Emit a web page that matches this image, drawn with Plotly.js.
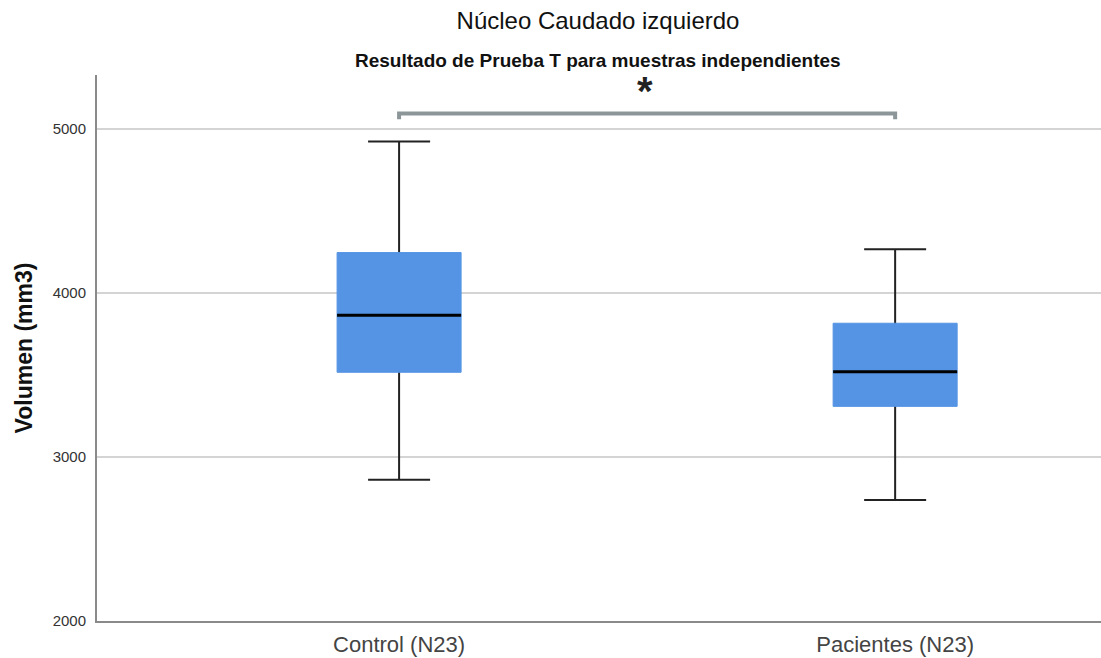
<!DOCTYPE html>
<html>
<head>
<meta charset="utf-8">
<script src="https://cdn.plot.ly/plotly-3.0.1.min.js"></script>
<style>html,body{margin:0;padding:0;background:#fff;}#chart{width:1101px;height:658px;}</style>
</head>
<body>
<div id="chart"></div>
<script>
// ---- data ----
const categories = ["Control (N23)", "Pacientes (N23)"];
const q1Values = [3517, 3309];
const medianValues = [3865, 3520];
const q3Values = [4247, 3816];
const lowerFenceValues = [2861, 2738];
const upperFenceValues = [4924, 4268];
const yTickValues = [2000, 3000, 4000, 5000];
const yTickLabels = ["2000", "3000", "4000", "5000"];
const significanceLabel = "*";
const bracketLevel = [5095, 5060]; // top of bracket, ends of bracket legs (mm3)

const titleText = "Núcleo Caudado izquierdo";
const subtitleText = "Resultado de Prueba T para muestras independientes";
const yTitleText = "Volumen (mm3)";

const boxBlue = "#5594e4";
const sansFont = "'Liberation Sans', Arial, sans-serif";

const boxWidth = 0.25;

// whiskers (black), drawn from median outward; inner part hidden by box body
const whiskerTrace = {
  type: "box", x: categories,
  q1: medianValues, median: medianValues, q3: medianValues,
  lowerfence: lowerFenceValues, upperfence: upperFenceValues,
  width: boxWidth, whiskerwidth: 0.5,
  line: {color: "#222222", width: 2}, fillcolor: "rgba(0,0,0,0)",
  boxpoints: false, showlegend: false, hoverinfo: "skip"
};
// box body (blue), no whiskers
const bodyTrace = {
  type: "box", x: categories,
  q1: q1Values, median: medianValues, q3: q3Values,
  lowerfence: q1Values, upperfence: q3Values,
  width: boxWidth, whiskerwidth: 0,
  line: {color: boxBlue, width: 1}, fillcolor: boxBlue,
  boxpoints: false, showlegend: false
};
// median line (black)
const medianTrace = {
  type: "box", x: categories,
  q1: medianValues, median: medianValues, q3: medianValues,
  lowerfence: medianValues, upperfence: medianValues,
  width: boxWidth, whiskerwidth: 0,
  line: {color: "#000000", width: 3}, fillcolor: "rgba(0,0,0,0)",
  boxpoints: false, showlegend: false, hoverinfo: "skip"
};

const bracketColor = "#8c9699";
const layout = {
  width: 1101, height: 658,
  margin: {l: 97, r: 0, t: 75, b: 37},
  paper_bgcolor: "#ffffff", plot_bgcolor: "#ffffff",
  boxmode: "overlay",
  showlegend: false,
  title: {
    text: titleText,
    font: {family: sansFont, size: 24, color: "#111111"},
    x: 0.499, xanchor: "center", xref: "paper",
    y: 1 - 21/658, yanchor: "middle", yref: "container"
  },
  xaxis: {
    type: "category",
    range: [-0.609, 1.415],
    showgrid: false, zeroline: false,
    showline: true, linecolor: "#8a8a8a", linewidth: 2,
    ticks: "", ticklabelstandoff: 3,
    tickfont: {family: sansFont, size: 22, color: "#444444"},
    fixedrange: true
  },
  yaxis: {
    range: [2000, 5330],
    tickvals: yTickValues, ticktext: yTickLabels,
    showgrid: true, gridcolor: "#d4d4d4", gridwidth: 2,
    zeroline: false,
    showline: true, linecolor: "#8a8a8a", linewidth: 2,
    ticks: "", ticklabelstandoff: 6,
    tickfont: {family: sansFont, size: 15, color: "#333333"},
    title: {text: "<b>" + yTitleText + "</b>", font: {family: sansFont, size: 23, color: "#111111"}, standoff: 14},
    fixedrange: true
  },
  annotations: [
    {
      text: "<b>" + subtitleText + "</b>",
      xref: "paper", yref: "paper", x: 0.499, y: (621 - 60) / 546,
      xanchor: "center", yanchor: "middle", showarrow: false,
      font: {family: sansFont, size: 19, color: "#111111"}
    },
    {
      text: "<b>" + significanceLabel + "</b>",
      xref: "x", yref: "y", x: 0.495, y: 5232,
      xanchor: "center", yanchor: "middle", showarrow: false,
      font: {family: sansFont, size: 40, color: "#222222"}
    }
  ],
  shapes: [
    {type: "path", xref: "x", yref: "y",
     path: "M 0," + bracketLevel[1] + " L 0," + bracketLevel[0] + " L 1," + bracketLevel[0] + " L 1," + bracketLevel[1],
     line: {color: bracketColor, width: 4}}
  ]
};

Plotly.newPlot("chart", [whiskerTrace, bodyTrace, medianTrace], layout, {displayModeBar: false, staticPlot: true});
</script>
</body>
</html>
